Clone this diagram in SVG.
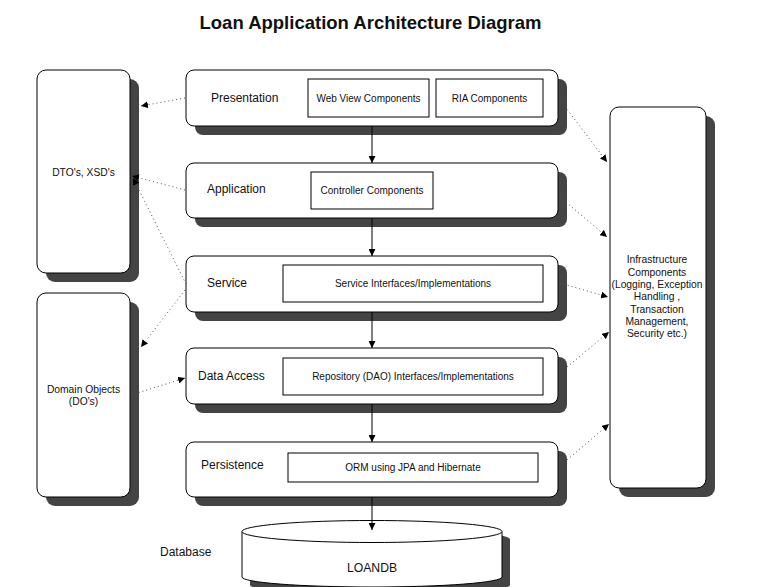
<svg xmlns="http://www.w3.org/2000/svg" width="763" height="587" viewBox="0 0 763 587">
<defs>
<style>
text{font-family:"Liberation Sans",Arial,sans-serif;fill:#111}
.title{font-size:18.5px;font-weight:bold;text-anchor:middle}
.lbl{font-size:12px}
.in{font-size:10px;text-anchor:middle}
.c{text-anchor:middle}
.box{fill:#fff;stroke:#000;stroke-width:1}
.sh{fill:#444;stroke:none}
.solid{stroke:#000;stroke-width:1;fill:none;marker-end:url(#ah)}
.dot{stroke:#555;stroke-width:1;stroke-dasharray:1 3;fill:none;marker-end:url(#ah)}
</style>
<marker id="ah" viewBox="0 0 10 10" refX="10" refY="5" markerWidth="7" markerHeight="7" markerUnits="userSpaceOnUse" orient="auto">
<path d="M0,0 L10,5 L0,10 Z" fill="#000"/>
</marker>
</defs>
<rect width="763" height="587" fill="#fff"/>
<text class="title" x="370.5" y="29">Loan Application Architecture Diagram</text>

<g id="dto">
<rect class="sh" x="46" y="79" width="93" height="203" rx="9"/>
<rect class="box" x="37" y="70" width="93" height="203" rx="9"/>
<text class="in" x="83.5" y="176" style="font-size:10.3px">DTO's, XSD's</text>
</g>
<g id="domain">
<rect class="sh" x="46" y="302" width="93" height="204" rx="9"/>
<rect class="box" x="37" y="293" width="93" height="204" rx="9"/>
<text class="in" x="83.5" y="393" style="font-size:10.3px">Domain Objects</text>
<text class="in" x="83.5" y="405" style="font-size:10.3px">(DO's)</text>
</g>
<g id="infra">
<rect class="sh" x="619" y="116" width="96" height="381" rx="9"/>
<rect class="box" x="610" y="107" width="96" height="381" rx="9"/>
<g class="in" style="font-size:10.3px">
<text class="in" x="657" y="263" style="font-size:10.3px">Infrastructure</text>
<text class="in" x="657" y="276" style="font-size:10.3px">Components</text>
<text class="in" x="657" y="288" style="font-size:10.3px">(Logging, Exception</text>
<text class="in" x="657" y="300" style="font-size:10.3px">Handling ,</text>
<text class="in" x="657" y="313" style="font-size:10.3px">Transaction</text>
<text class="in" x="657" y="325" style="font-size:10.3px">Management,</text>
<text class="in" x="657" y="337" style="font-size:10.3px">Security etc.)</text>
</g>
</g>

<g id="presentation">
<rect class="sh" x="195" y="79" width="372" height="56" rx="8"/>
<rect class="box" x="186" y="70" width="372" height="56" rx="8"/>
<text class="lbl" x="211" y="102">Presentation</text>
<rect class="box" x="308" y="79" width="121" height="38"/>
<text class="in" x="368.5" y="102">Web View Components</text>
<rect class="box" x="436" y="79" width="107" height="38"/>
<text class="in" x="489.5" y="102">RIA Components</text>
</g>
<g id="application">
<rect class="sh" x="195" y="172" width="372" height="55" rx="8"/>
<rect class="box" x="186" y="163" width="372" height="55" rx="8"/>
<text class="lbl" x="207" y="193">Application</text>
<rect class="box" x="311" y="172" width="122" height="37"/>
<text class="in" x="372" y="194">Controller Components</text>
</g>
<g id="service">
<rect class="sh" x="195" y="265" width="372" height="56" rx="8"/>
<rect class="box" x="186" y="256" width="372" height="56" rx="8"/>
<text class="lbl" x="207" y="287">Service</text>
<rect class="box" x="283" y="265" width="260" height="37"/>
<text class="in" x="413" y="287">Service Interfaces/Implementations</text>
</g>
<g id="dataaccess">
<rect class="sh" x="195" y="357" width="372" height="56" rx="8"/>
<rect class="box" x="186" y="348" width="372" height="56" rx="8"/>
<text class="lbl" x="198" y="380">Data Access</text>
<rect class="box" x="283" y="358" width="260" height="37"/>
<text class="in" x="413" y="380">Repository (DAO) Interfaces/Implementations</text>
</g>
<g id="persistence">
<rect class="sh" x="195" y="451" width="372" height="55" rx="8"/>
<rect class="box" x="186" y="442" width="372" height="55" rx="8"/>
<text class="lbl" x="201" y="469">Persistence</text>
<rect class="box" x="288" y="453" width="250" height="29"/>
<text class="in" x="413" y="471">ORM using JPA and Hibernate</text>
</g>
<g id="database">
<text class="lbl" x="160" y="556">Database</text>
<path class="sh" d="M250,539.5 L250,585 A130,10 0 0 0 510,585 L510,539.5 A130,11 0 0 0 250,539.5 Z"/>
<path class="box" d="M242,531.5 L242,577 A130,10 0 0 0 502,577 L502,531.5"/>
<ellipse class="box" cx="372" cy="531.5" rx="130" ry="11"/>
<text class="c" x="372" y="572" style="font-size:12.2px">LOANDB</text>
</g>

<g id="connectors">
<line class="solid" x1="372" y1="126" x2="372" y2="163"/>
<line class="solid" x1="372" y1="218" x2="372" y2="256"/>
<line class="solid" x1="372" y1="312" x2="372" y2="348"/>
<line class="solid" x1="372" y1="404" x2="372" y2="442"/>
<line class="solid" x1="372" y1="497" x2="372" y2="530"/>
<line class="dot" x1="185" y1="98" x2="141" y2="106"/>
<line class="dot" x1="185" y1="190" x2="132" y2="176"/>
<line class="dot" x1="186" y1="284" x2="133" y2="178"/>
<line class="dot" x1="185" y1="290" x2="141" y2="347"/>
<line class="dot" x1="131" y1="395" x2="185" y2="378"/>
<line class="dot" x1="560" y1="100" x2="607" y2="162"/>
<line class="dot" x1="560" y1="197" x2="607" y2="237"/>
<line class="dot" x1="560" y1="283" x2="608" y2="297"/>
<line class="dot" x1="567" y1="367" x2="609" y2="332"/>
<line class="dot" x1="567" y1="460" x2="609" y2="424"/>
</g>
</svg>
